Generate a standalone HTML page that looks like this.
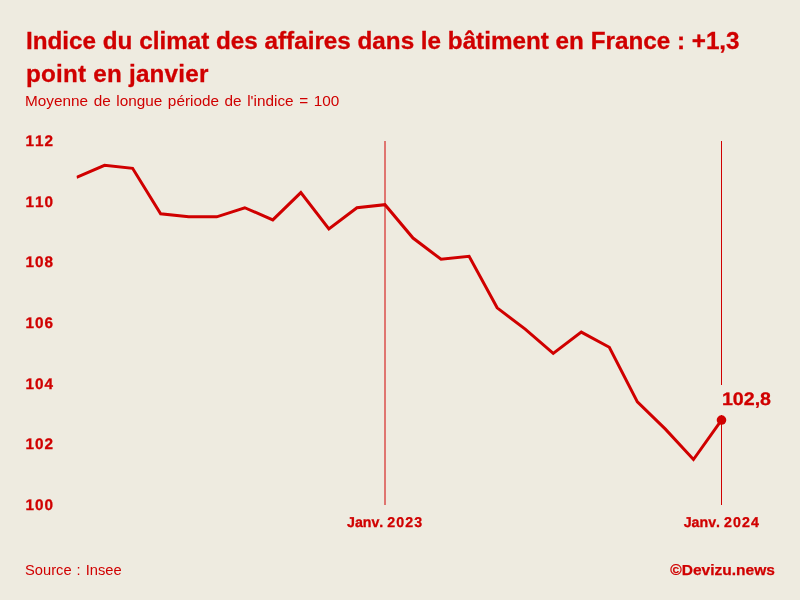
<!DOCTYPE html>
<html lang="fr"><head><meta charset="utf-8"><title>Indice du climat des affaires dans le bâtiment</title>
<style>
html,body{margin:0;padding:0;background:#eeebe0;}
body{width:800px;height:600px;overflow:hidden;position:relative;font-family:"Liberation Sans",sans-serif;color:#d00000;}
h1{position:absolute;left:25.6px;top:24px;margin:0;font-size:24px;line-height:33px;font-weight:700;white-space:nowrap;word-spacing:0px;transform:scaleX(1.0104);transform-origin:0 0;-webkit-text-stroke:0.3px #d00000}
.sub{position:absolute;left:25px;top:92px;margin:0;font-size:14px;line-height:18px;white-space:nowrap;word-spacing:1.2px;transform:scaleX(1.095);transform-origin:0 0}
.src{position:absolute;left:25px;top:561px;font-size:14px;line-height:18px;white-space:nowrap;word-spacing:0.9px;transform:scaleX(1.05);transform-origin:0 0}
.cr{position:absolute;right:25px;top:561px;font-size:14.4px;line-height:18px;font-weight:700;white-space:nowrap;transform:scaleX(1.08);transform-origin:100% 0;-webkit-text-stroke:0.25px #d00000}
svg{position:absolute;left:0;top:0}
svg text{text-rendering:geometricPrecision;font-kerning:none;font-family:"Liberation Sans",sans-serif;fill:#d00000;font-weight:700;stroke:#d00000;stroke-width:0.3px}
.ax{font-size:15.3px;letter-spacing:1px}
.xl{font-size:14.2px;white-space:pre}
.val{font-size:18.1px}
</style></head><body>
<h1>Indice du climat des affaires dans le bâtiment en France : +1,3<br><span style="letter-spacing:0.21px">point en janvier</span></h1>
<p class="sub">Moyenne de longue période de l'indice = 100</p>
<svg width="800" height="600" viewBox="0 0 800 600">
<text transform="translate(25.4 145.90) scale(1.0 1)" class="ax">112</text>
<text transform="translate(25.4 206.57) scale(1.0 1)" class="ax">110</text>
<text transform="translate(25.4 267.23) scale(1.0 1)" class="ax">108</text>
<text transform="translate(25.4 327.90) scale(1.0 1)" class="ax">106</text>
<text transform="translate(25.4 388.57) scale(1.0 1)" class="ax">104</text>
<text transform="translate(25.4 449.23) scale(1.0 1)" class="ax">102</text>
<text transform="translate(25.4 509.90) scale(1.0 1)" class="ax">100</text>
<line x1="385" y1="141" x2="385" y2="505" stroke="#d00000" stroke-width="1"/>
<line x1="721.5" y1="141" x2="721.5" y2="505" stroke="#d00000" stroke-width="1"/>
<clipPath id="plot"><rect x="76.6" y="130" width="700" height="385"/></clipPath>
<polyline clip-path="url(#plot)" points="76.50,177.40 104.54,165.27 132.59,168.30 160.63,213.80 188.67,216.83 216.72,216.83 244.76,207.73 272.80,219.87 300.85,192.57 328.89,228.97 356.93,207.73 384.98,204.70 413.02,238.07 441.07,259.30 469.11,256.27 497.15,307.83 525.20,329.07 553.24,353.33 581.28,332.10 609.33,347.27 637.37,401.87 665.41,429.17 693.46,459.50 721.50,420.07" fill="none" stroke="#d00000" stroke-width="3" stroke-linejoin="miter" stroke-linecap="butt"/>
<rect x="718" y="385" width="56" height="30" fill="#eeebe0"/>
<circle cx="721.5" cy="420.07" r="4.8" fill="#d00000"/>
<text transform="translate(721.9 405) scale(1.085 1)" class="val">102,8</text>
<text transform="translate(347.0 527.4)" class="xl">Janv. <tspan style="letter-spacing:1.1px">2023</tspan></text>
<text transform="translate(683.7 527.4)" class="xl">Janv. <tspan style="letter-spacing:1.1px">2024</tspan></text>
</svg>
<div class="src">Source : Insee</div>
<div class="cr">©Devizu.news</div>
</body></html>
